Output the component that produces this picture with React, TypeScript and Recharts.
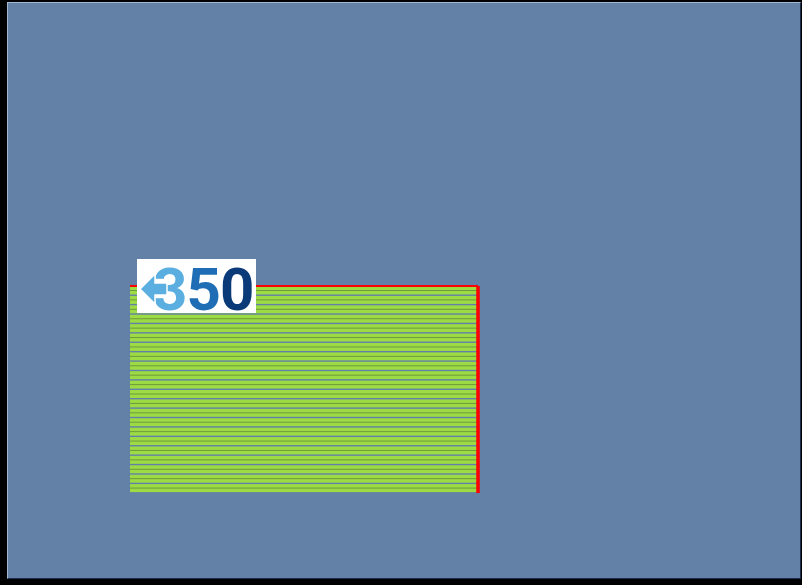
import { BarChart, Bar, XAxis, YAxis } from "recharts";

// 22 rows, every bar runs the full width of the plot
const rows = [
  "R1", "R2", "R3", "R4", "R5", "R6", "R7", "R8", "R9", "R10", "R11",
  "R12", "R13", "R14", "R15", "R16", "R17", "R18", "R19", "R20", "R21", "R22",
];
const values = [
  100, 100, 100, 100, 100, 100, 100, 100, 100, 100, 100,
  100, 100, 100, 100, 100, 100, 100, 100, 100, 100, 100,
];
const valueDomain = [0, 100];

const data = rows.map((name, i) => ({ name, value: values[i] }));

const BG = "#6381a6";
const GREEN = "#9cdb44";
const DARK_GREEN = "#6f9a3c";
const RED = "#ff0000";

function StripedBar(props: any) {
  const { x, y, width, height } = props;
  const mid = y + height / 2;
  return (
    <g>
      <rect x={x} y={y} width={width} height={height} fill={GREEN} />
      <line x1={x} x2={x + width} y1={mid} y2={mid} stroke={DARK_GREEN} strokeWidth={1} />
    </g>
  );
}

function Logo() {
  // svg is taller than the white box so the glyph box is not clipped
  return (
    <svg
      width={119}
      height={70}
      style={{ position: "absolute", left: 137, top: 259, overflow: "visible" }}
    >
      <rect x={0} y={0} width={119} height={54} fill="#ffffff" />
      <text
        x={16}
        y={51}
        fontFamily="Roboto, 'DejaVu Sans', sans-serif"
        fontWeight={700}
        fontSize={60}
        letterSpacing={-1}
      >
        <tspan fill="#5aaee0">3</tspan>
        <tspan fill="#1f6db5">5</tspan>
        <tspan fill="#0b3a78">0</tspan>
      </text>
      <polygon
        points="3,30 18,15 18,24 30,24 30,36 18,36 18,45"
        fill="#5aaee0"
        stroke="#ffffff"
        strokeWidth={1.5}
      />
    </svg>
  );
}

export default function App() {
  return (
    <div
      style={{
        position: "fixed",
        left: 0,
        top: 0,
        width: 802,
        height: 585,
        background: "#000000",
      }}
    >
      <div
        style={{
          position: "absolute",
          left: 7,
          top: 2,
          width: 792,
          height: 575,
          background: BG,
          borderTop: "1px solid #a3b7d1",
          borderLeft: "1px solid #a3b7d1",
          borderRight: "1px solid #1d2e4c",
          borderBottom: "1px solid #1d2e4c",
        }}
      />
      <div style={{ position: "absolute", left: 0, top: 0 }}>
        <BarChart
          width={802}
          height={585}
          data={data}
          layout="vertical"
          margin={{ top: 284, left: 130, right: 321, bottom: 92 }}
          barCategoryGap={0.5}
        >
          <XAxis
            type="number"
            orientation="top"
            domain={valueDomain}
            height={2}
            tick={false}
            tickLine={false}
            axisLine={{ stroke: RED, strokeWidth: 2 }}
          />
          <YAxis
            type="category"
            dataKey="name"
            orientation="right"
            width={3}
            tick={false}
            tickLine={false}
            axisLine={{ stroke: RED, strokeWidth: 3.5 }}
          />
          <Bar dataKey="value" shape={StripedBar} isAnimationActive={false} />
        </BarChart>
      </div>
      <Logo />
    </div>
  );
}
